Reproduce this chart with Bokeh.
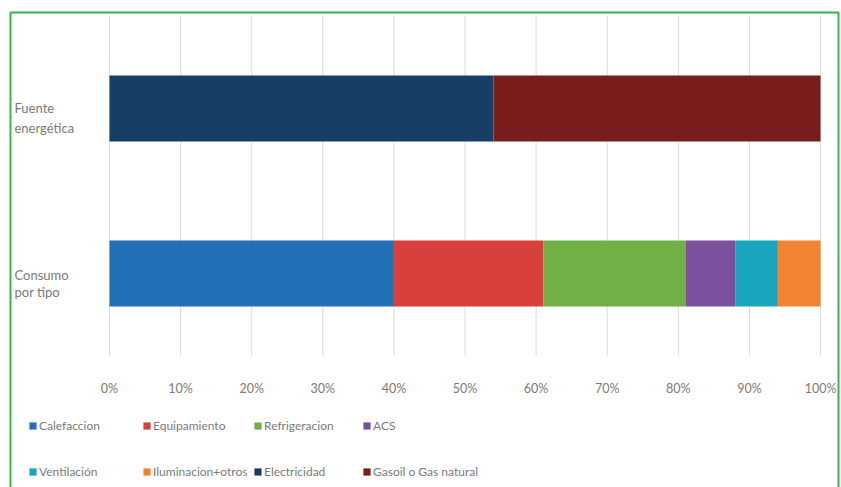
from bokeh.plotting import figure
from bokeh.models import (Range1d, FixedTicker, PrintfTickFormatter,
                          Legend, LegendItem, Label, BoxAnnotation, Node, ColumnDataSource)
from bokeh.embed import file_html
from bokeh.resources import INLINE

categories = ["Consumo por tipo", "Fuente energética"]
category_lines = [["Consumo", "por tipo"], ["Fuente", "energética"]]
series = ["Calefaccion", "Equipamiento", "Refrigeracion", "ACS", "Ventilación",
          "Iluminacion+otros", "Electricidad", "Gasoil o Gas natural"]
consumo = [40, 21, 20, 7, 6, 6, 0, 0]
fuente = [0, 0, 0, 0, 0, 0, 54, 46]
colors = ["#2170b8", "#d8403d", "#70b045", "#7b519d", "#18a5bd", "#f08431", "#173f66", "#791c1c"]
tick_values = [0, 10, 20, 30, 40, 50, 60, 70, 80, 90, 100]

FONT = "Lato"
GRAY = "#7a7a7a"

cat_pos = [i + 0.5 for i in range(len(categories))]
data = {"cat": categories, "pos": cat_pos}
for i, s in enumerate(series):
    data[s] = [consumo[i], fuente[i]]
src = ColumnDataSource(data)

# frame covers the whole canvas; ranges chosen so 0..100 spans x=109..820 px
p = figure(width=841, height=487, output_backend="svg", toolbar_location=None,
           y_range=Range1d(-0.797, 2.1545),
           x_range=Range1d(-15.33, 102.95),
           min_border=0)
p.outline_line_color = None
p.background_fill_color = "white"
p.border_fill_color = "white"

# vertical grid lines (only over the bar area)
p.segment(x0=tick_values, x1=tick_values, y0=0, y1=2.06, line_color="#dcdcdc", line_width=1)

rs = p.hbar_stack(series, y="pos", height=0.4, color=colors, line_color=None, source=src)

p.yaxis.visible = False
p.ygrid.visible = False
p.xgrid.visible = False
p.xaxis.fixed_location = 0
p.xaxis.ticker = FixedTicker(ticks=tick_values)
p.xaxis.formatter = PrintfTickFormatter(format="%d%%")
p.xaxis.axis_line_color = None
p.xaxis.major_tick_line_color = None
p.xaxis.minor_tick_line_color = None
p.xaxis.major_label_standoff = 19
p.xaxis.major_label_text_font = FONT
p.xaxis.major_label_text_font_size = "12.5px"
p.xaxis.major_label_text_color = GRAY

# category labels
offsets = [[-2, -19], [0, -20]]
for pos, lines, offs in zip(cat_pos, category_lines, offsets):
    for line, off in zip(lines, offs):
        p.add_layout(Label(x=14, x_units="screen", y=pos, y_offset=off, text=line,
                           text_baseline="middle", text_align="left",
                           text_font=FONT, text_font_size="13px", text_color=GRAY))

# legends: 4 columns x 2 rows
col_x = [28, 142, 253, 362]
for c in range(4):
    items = [LegendItem(label=series[c], renderers=[rs[c]]),
             LegendItem(label=series[c + 4], renderers=[rs[c + 4]])]
    leg = Legend(items=items, location=(col_x[c], 8), orientation="vertical",
                 border_line_color=None, background_fill_alpha=0, padding=0, margin=0,
                 spacing=31, glyph_width=9, glyph_height=9, label_standoff=2,
                 label_text_font=FONT, label_text_font_size="12px", label_text_color=GRAY)
    p.add_layout(leg)

# green border
p.add_layout(BoxAnnotation(left=Node(target="canvas", symbol="left", offset=10),
                           right=Node(target="canvas", symbol="right", offset=-3),
                           top=Node(target="canvas", symbol="top", offset=12),
                           bottom=Node(target="canvas", symbol="bottom", offset=20),
                           fill_alpha=0, line_color="#3cb44a", line_alpha=1.0, line_width=2))

open("out.html", "w").write(file_html(p, INLINE))
